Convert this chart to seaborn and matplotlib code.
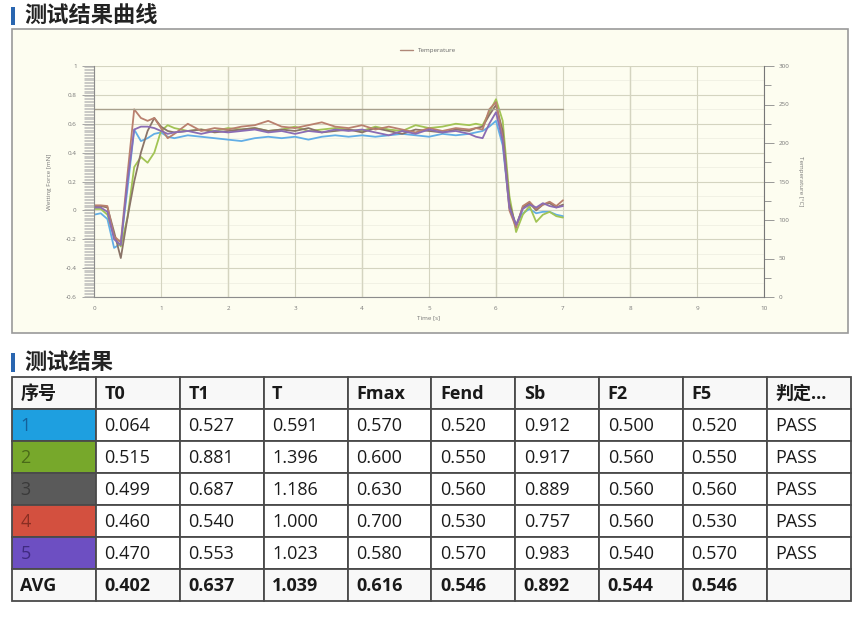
import numpy as np
import pandas as pd
import matplotlib
matplotlib.use("Agg")
import matplotlib.pyplot as plt
from matplotlib.patches import Rectangle
from matplotlib.lines import Line2D
from matplotlib.ticker import MultipleLocator
import seaborn as sns

# ------------------------------------------------------------
# curve data (wetting force, mN)
# ------------------------------------------------------------
time_s = [0.0, 0.1, 0.2, 0.3, 0.4, 0.5, 0.6, 0.7, 0.8, 0.9, 1.0, 1.1, 1.2,
          1.4, 1.6, 1.8, 2.0, 2.2, 2.4, 2.6, 2.8, 3.0, 3.2, 3.4, 3.6, 3.8,
          4.0, 4.2, 4.4, 4.6, 4.8, 5.0, 5.2, 5.4, 5.6,
          5.7, 5.8, 5.9, 6.0, 6.1, 6.2, 6.3, 6.4, 6.5, 6.6, 6.7, 6.8, 6.9, 7.0]

force_1 = [-0.03, -0.02, -0.06, -0.26, -0.23, 0.15, 0.56, 0.48, 0.50, 0.53, 0.54, 0.51, 0.50,
           0.52, 0.51, 0.50, 0.49, 0.48, 0.50, 0.51, 0.50, 0.51, 0.49, 0.51, 0.52, 0.51,
           0.52, 0.51, 0.52, 0.53, 0.52, 0.51, 0.53, 0.52, 0.53,
           0.54, 0.55, 0.58, 0.62, 0.45, 0.02, -0.10, -0.02, 0.01, -0.02, -0.01, -0.01, -0.03, -0.04]
force_2 = [0.01, 0.01, -0.03, -0.18, -0.25, -0.05, 0.30, 0.37, 0.33, 0.40, 0.55, 0.59, 0.57,
           0.55, 0.56, 0.55, 0.57, 0.56, 0.57, 0.55, 0.56, 0.58, 0.55, 0.56, 0.57, 0.56,
           0.55, 0.58, 0.56, 0.55, 0.59, 0.57, 0.58, 0.60, 0.59,
           0.60, 0.59, 0.68, 0.77, 0.62, 0.10, -0.15, -0.03, 0.03, -0.08, -0.03, -0.01, -0.04, -0.05]
force_3 = [0.03, 0.03, 0.02, -0.15, -0.33, -0.05, 0.20, 0.40, 0.55, 0.64, 0.58, 0.55, 0.54,
           0.55, 0.56, 0.54, 0.55, 0.56, 0.57, 0.55, 0.56, 0.55, 0.57, 0.54, 0.55, 0.56,
           0.54, 0.57, 0.55, 0.53, 0.56, 0.55, 0.54, 0.56, 0.55,
           0.57, 0.58, 0.66, 0.73, 0.55, 0.05, -0.11, 0.02, 0.05, 0.00, 0.04, 0.05, 0.02, 0.04]
force_4 = [0.035, 0.035, 0.03, -0.18, -0.22, 0.25, 0.70, 0.64, 0.62, 0.64, 0.57, 0.50, 0.53,
           0.60, 0.55, 0.57, 0.56, 0.58, 0.59, 0.62, 0.58, 0.57, 0.59, 0.61, 0.58, 0.57,
           0.59, 0.56, 0.58, 0.56, 0.54, 0.57, 0.55, 0.57, 0.56,
           0.57, 0.56, 0.70, 0.75, 0.50, 0.00, -0.12, 0.03, 0.06, 0.01, 0.04, 0.06, 0.03, 0.07]
force_5 = [0.02, 0.02, -0.01, -0.20, -0.24, 0.20, 0.56, 0.58, 0.58, 0.57, 0.55, 0.53, 0.54,
           0.55, 0.53, 0.55, 0.54, 0.55, 0.56, 0.54, 0.55, 0.53, 0.55, 0.54, 0.56, 0.55,
           0.56, 0.54, 0.52, 0.55, 0.53, 0.56, 0.54, 0.55, 0.53,
           0.51, 0.50, 0.60, 0.68, 0.48, 0.02, -0.10, 0.01, 0.04, 0.02, 0.05, 0.03, 0.02, 0.03]

series_names = ["1", "2", "3", "4", "5"]
line_colors = ["#62aee6", "#a2c455", "#8a7468", "#b9806e", "#8a6cb4"]
threshold_force = 0.7
threshold_end = 7.0

# ------------------------------------------------------------
# result table
# ------------------------------------------------------------
table_header = ["序号", "T0", "T1", "T", "Fmax", "Fend", "Sb", "F2", "F5", "判定..."]
t0 = [0.064, 0.515, 0.499, 0.460, 0.470]
t1 = [0.527, 0.881, 0.687, 0.540, 0.553]
t_total = [0.591, 1.396, 1.186, 1.000, 1.023]
fmax = [0.570, 0.600, 0.630, 0.700, 0.580]
fend = [0.520, 0.550, 0.560, 0.530, 0.570]
sb = [0.912, 0.917, 0.889, 0.757, 0.983]
f2 = [0.500, 0.560, 0.560, 0.560, 0.540]
f5 = [0.520, 0.550, 0.560, 0.530, 0.570]
verdict = ["PASS", "PASS", "PASS", "PASS", "PASS"]
avg_row = ["AVG", "0.402", "0.637", "1.039", "0.616", "0.546", "0.892", "0.544", "0.546", ""]
cell_colors = ["#1e9fe0", "#77a82b", "#5a5a5a", "#d3503f", "#6d4fc2"]
cell_text_colors = ["#14609a", "#4a6a18", "#3a3a3a", "#8a2e22", "#3f2a80"]

# ------------------------------------------------------------
# style
# ------------------------------------------------------------
sns.set_style("white")
plt.rcParams["font.family"] = ["Open Sans", "Noto Sans CJK SC", "DejaVu Sans"]

W, H = 862, 622
fig = plt.figure(figsize=(W / 100, H / 100), dpi=100)


def fbox(x0, y0, x1, y1):
    # pixel box -> figure fraction [left, bottom, width, height]
    return [x0 / W, 1 - y1 / H, (x1 - x0) / W, (y1 - y0) / H]


# section titles
for y0, y1, ty, txt in [(7, 25, 16, "测试结果曲线"), (353, 372, 362, "测试结果")]:
    fig.patches.append(Rectangle((11 / W, 1 - y1 / H), 4 / W, (y1 - y0) / H,
                                 transform=fig.transFigure, facecolor="#2a66b0",
                                 edgecolor="none"))
    fig.text(24 / W, 1 - ty / H, txt, fontsize=16, fontweight="bold",
             family=["Noto Sans CJK SC"], color="#222222", va="center", ha="left")

# chart panel (behind the axes)
fig.patches.append(Rectangle((12 / W, 1 - 333 / H), 836 / W, 304 / H,
                             transform=fig.transFigure, facecolor="#fdfdf0",
                             edgecolor="#9a9a9a", linewidth=1.2, zorder=-10))

# ------------------------------------------------------------
# line chart
# ------------------------------------------------------------
ax = fig.add_axes(fbox(94, 66, 764, 297))
ax.set_facecolor("#fdfdf0")

rows = []
for name, vals in zip(series_names, [force_1, force_2, force_3, force_4, force_5]):
    for t, v in zip(time_s, vals):
        rows.append({"time": t, "force": v, "sample": name})
df = pd.DataFrame(rows)

sns.lineplot(data=df, x="time", y="force", hue="sample", palette=line_colors,
             linewidth=1.3, ax=ax, legend=False, sort=False)

ax.plot([0, threshold_end], [threshold_force, threshold_force],
        color="#a8a08c", linewidth=1.0)

ax.set_xlim(0, 10)
ax.set_ylim(-0.6, 1.0)
ax.xaxis.set_major_locator(MultipleLocator(1))
ax.yaxis.set_major_locator(MultipleLocator(0.2))
ax.yaxis.set_minor_locator(MultipleLocator(0.01))
ax.set_xticklabels([str(int(round(v))) for v in ax.get_xticks()])
ax.set_yticklabels([f"{v:g}" for v in np.round(ax.get_yticks(), 1)])

ax.grid(True, which="major", axis="both", color="#d4d4c0", linewidth=0.8)
for x in [2, 4, 6, 8]:
    ax.axvline(x, color="#c2c2ae", linewidth=0.9, zorder=0)
for y in np.arange(-0.5, 1.0, 0.1):
    ax.axhline(y, color="#ecece0", linewidth=0.5, zorder=0)

for side in ["top", "right"]:
    ax.spines[side].set_visible(False)
ax.spines["left"].set_color("#8c8c8c")
ax.spines["bottom"].set_color("#8c8c8c")
ax.tick_params(axis="both", which="major", labelsize=4.5, labelcolor="#777777",
               color="#999999", length=9, width=0.6)
ax.tick_params(axis="y", which="minor", length=7, width=0.5, color="#b4b4b4")
ax.tick_params(axis="x", which="major", length=3)
ax.set_xlabel("Time [s]", fontsize=4.5, color="#777777", labelpad=3)
ax.set_ylabel("Wetting Force [mN]", fontsize=4.5, color="#777777", labelpad=10)

# temperature axis on the right
ax2 = ax.twinx()
ax2.set_ylim(0, 300)
ax2.yaxis.set_major_locator(MultipleLocator(50))
ax2.yaxis.set_minor_locator(MultipleLocator(25))
for side in ["top", "left", "bottom"]:
    ax2.spines[side].set_visible(False)
ax2.spines["right"].set_color("#777777")
ax2.tick_params(axis="y", which="major", labelsize=4.5, labelcolor="#777777",
                color="#888888", length=7, width=0.6)
ax2.tick_params(axis="y", which="minor", color="#888888", length=5, width=0.6)
ax2.set_ylabel("Temperature [°C]", fontsize=4.5, color="#777777", rotation=270,
               labelpad=10)
ax2.grid(False)

legend_handle = Line2D([0], [0], color="#b08878", linewidth=1.0)
fig.legend([legend_handle], ["Temperature"], loc="center",
           bbox_to_anchor=(428 / W, 1 - 50 / H), frameon=False, fontsize=4.5,
           handlelength=2.2, labelcolor="#666666")

# ------------------------------------------------------------
# result table
# ------------------------------------------------------------
tax = fig.add_axes(fbox(12, 377, 851, 601))
n_cols = len(table_header)
n_rows = 2 + len(t0)
tax.set_xlim(0, n_cols)
tax.set_ylim(n_rows, 0)
tax.axis("off")

body = []
for i in range(len(t0)):
    body.append([series_names[i]] + [f"{v:.3f}" for v in
                (t0[i], t1[i], t_total[i], fmax[i], fend[i], sb[i], f2[i], f5[i])]
                + [verdict[i]])
all_rows = [table_header] + body + [avg_row]

for r, row in enumerate(all_rows):
    for c, txt in enumerate(row):
        face = "white"
        color = "#1a1a1a"
        weight = "normal"
        if r == 0 or r == n_rows - 1:
            face = "#f8f8f8"
            weight = "bold"
        if 0 < r < n_rows - 1 and c == 0:
            face = cell_colors[r - 1]
            color = cell_text_colors[r - 1]
        tax.add_patch(Rectangle((c, r), 1, 1, facecolor=face, edgecolor="#4a4a4a",
                                linewidth=1.3, clip_on=False))
        tax.text(c + 0.1, r + 0.52, txt, fontsize=13, color=color,
                 fontweight=weight, va="center", ha="left",
                 family=["Open Sans", "Noto Sans CJK SC"])

fig.savefig("out.png", dpi=100)
